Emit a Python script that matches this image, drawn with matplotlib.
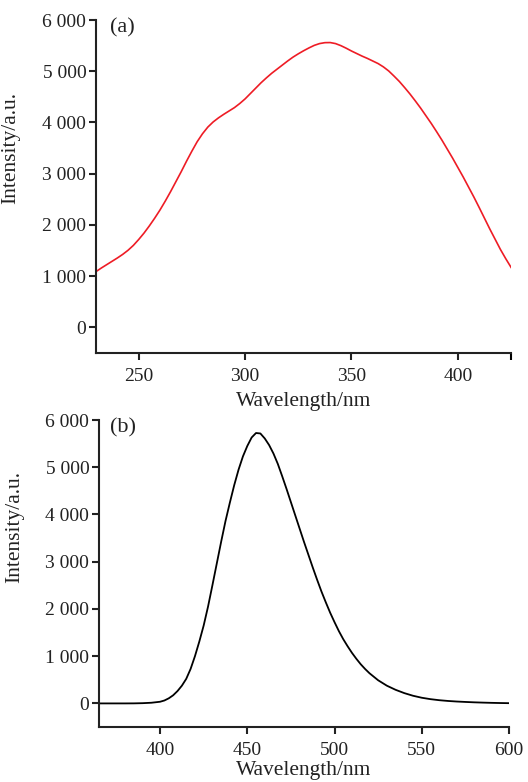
import matplotlib
matplotlib.use('Agg')
import matplotlib.pyplot as plt
from matplotlib.ticker import FuncFormatter

plt.rcParams['font.family'] = ['Liberation Serif', 'DejaVu Serif']

# (a) excitation spectrum
wl_a = [230, 232.5, 235, 237.5, 240, 242.5, 245, 247.5, 250, 252.5, 255, 257.5,
        260, 262.5, 265, 267.5, 270, 272.5, 275, 277.5, 280, 282.5, 285, 287.5,
        290, 292.5, 295, 297.5, 300, 302.5, 305, 307.5, 310, 312.5, 315, 317.5,
        320, 322.5, 325, 327.5, 330, 332.5, 335, 337.5, 340, 342.5, 345, 347.5,
        350, 352.5, 355, 357.5, 360, 362.5, 365, 367.5, 370, 372.5, 375, 377.5,
        380, 382.5, 385, 387.5, 390, 392.5, 395, 397.5, 400, 402.5, 405, 407.5,
        410, 412.5, 415, 417.5, 420, 422.5, 425]
int_a = [1090, 1160, 1225, 1290, 1355, 1425, 1505, 1600, 1715, 1840, 1980, 2130,
         2290, 2465, 2650, 2845, 3040, 3245, 3440, 3625, 3780, 3910, 4010, 4090,
         4160, 4225, 4290, 4370, 4460, 4565, 4670, 4775, 4870, 4960, 5040, 5120,
         5200, 5275, 5340, 5400, 5455, 5505, 5540, 5558, 5560, 5540, 5500, 5450,
         5395, 5345, 5295, 5250, 5200, 5150, 5085, 5005, 4905, 4800, 4680, 4555,
         4420, 4280, 4130, 3980, 3820, 3655, 3480, 3305, 3120, 2935, 2740, 2545,
         2340, 2130, 1920, 1720, 1520, 1340, 1170]

# (b) emission spectrum
wl_b = [365, 370, 375, 380, 385, 390, 395, 400, 402.5, 405, 407.5, 410, 412.5,
        415, 417.5, 420, 422.5, 425, 427.5, 430, 432.5, 435, 437.5, 440, 442.5,
        445, 447.5, 450, 452.5, 455, 457.5, 460, 462.5, 465, 467.5, 470, 472.5,
        475, 477.5, 480, 482.5, 485, 487.5, 490, 492.5, 495, 497.5, 500, 502.5,
        505, 507.5, 510, 512.5, 515, 517.5, 520, 525, 530, 535, 540, 545, 550,
        555, 560, 565, 570, 575, 580, 585, 590, 595, 600]
int_b = [0, 0, 0, 0, 1, 5, 14, 35, 62, 108, 172, 262, 375,
         520, 730, 1000, 1310, 1650, 2050, 2500, 2960, 3420, 3860, 4250, 4620,
         4950, 5230, 5450, 5630, 5725, 5715, 5610, 5470, 5290, 5070, 4810, 4540,
         4260, 3980, 3700, 3420, 3150, 2880, 2620, 2370, 2140, 1920, 1720, 1530,
         1360, 1210, 1070, 945, 830, 730, 640, 490, 375, 288, 218, 162, 120,
         90, 68, 52, 40, 31, 23, 17, 12, 8, 5]

y_ticks = [0, 1000, 2000, 3000, 4000, 5000, 6000]


def thousands(v, pos):
    return f'{int(v):,}'.replace(',', ' ')


def style_axes(ax, xpad):
    for side in ('top', 'right'):
        ax.spines[side].set_visible(False)
    for side in ('left', 'bottom'):
        ax.spines[side].set_linewidth(1.5)
        ax.spines[side].set_color('#222222')
    ax.tick_params(direction='out', length=5, width=1.5, labelsize=14,
                   colors='#222222', pad=2)
    ax.tick_params(axis='x', pad=6)
    ax.tick_params(which='minor', direction='out', length=5, width=1.5)
    ax.set_yticks(y_ticks)
    ax.yaxis.set_major_formatter(FuncFormatter(thousands))
    ax.set_ylim(-500, 6000)
    ax.set_xlabel('Wavelength/nm', fontsize=15.5, color='#222222', labelpad=xpad)
    ax.set_ylabel('Intensity/a.u.', fontsize=15.5, color='#222222')


fig = plt.figure(figsize=(5.28, 7.82), dpi=100)

ax1 = fig.add_axes([0.182, 0.5486, 0.786, 0.4258])
ax1.plot(wl_a, int_a, color='#ee1c25', lw=1.2)
style_axes(ax1, 5)
ax1.set_xlim(230, 425)
ax1.set_xticks([250, 300, 350, 400])
ax1.set_xticks([425], minor=True)
ax1.yaxis.set_label_coords(-0.183, 0.616)
ax1.text(0.033, 1.005, '(a)', transform=ax1.transAxes, fontsize=16,
         va='top', ha='left', color='#222222')

ax2 = fig.add_axes([0.1875, 0.0703, 0.7765, 0.3926])
ax2.plot(wl_b, int_b, color='black', lw=1.3)
style_axes(ax2, 1)
ax2.set_xlim(365, 600)
ax2.set_xticks([400, 450, 500, 550, 600])
ax2.yaxis.set_label_coords(-0.183, 0.651)
ax2.text(0.027, 1.005, '(b)', transform=ax2.transAxes, fontsize=16,
         va='top', ha='left', color='#222222')

fig.savefig('out.png', dpi=100)
